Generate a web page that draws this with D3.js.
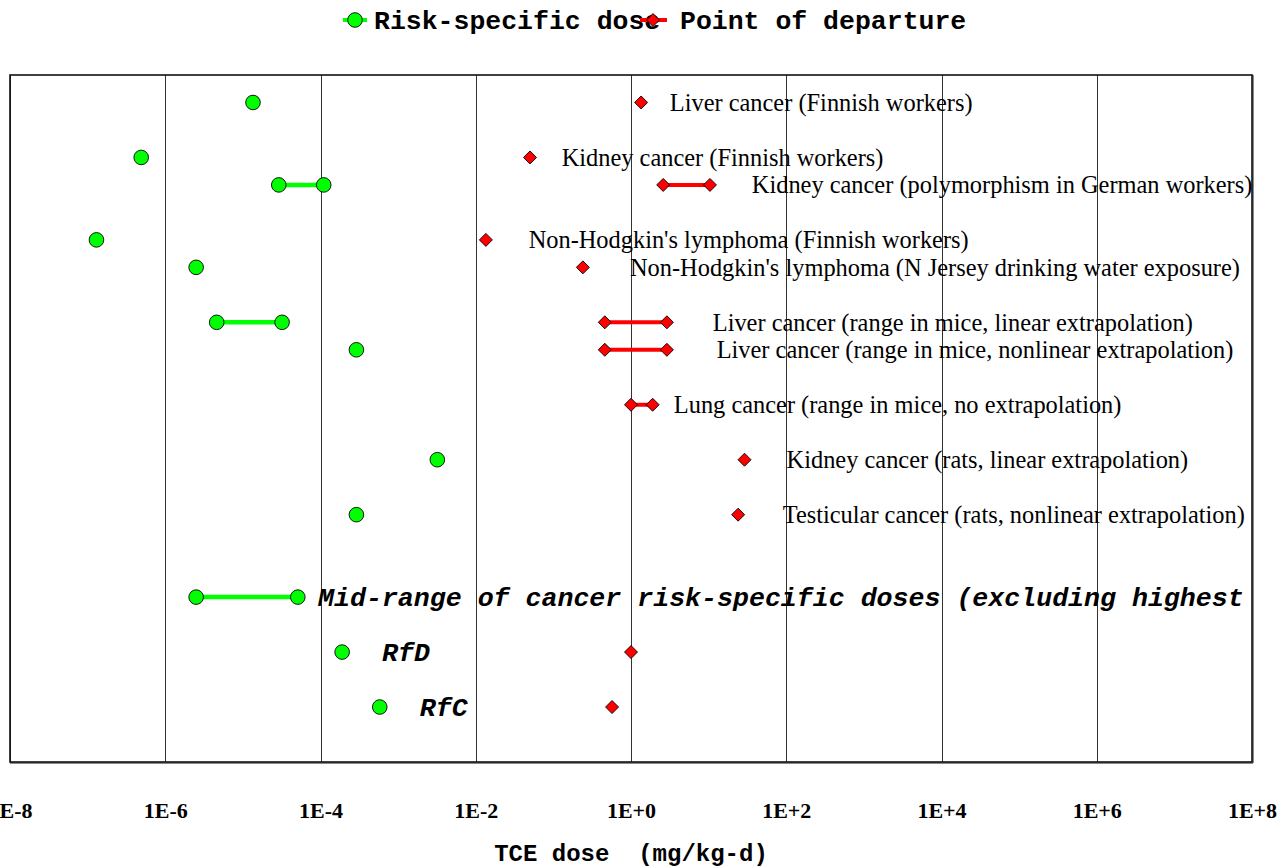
<!DOCTYPE html>
<html>
<head>
<meta charset="utf-8">
<script src="https://cdn.jsdelivr.net/npm/d3@7"></script>
<style>
  html, body { margin: 0; padding: 0; background: #fff; }
  svg { display: block; }
  text { white-space: pre; }
</style>
</head>
<body>
<svg id="chart" width="1284" height="867"></svg>
<script>
// ---- data ----
const labels = [
  "Liver cancer (Finnish workers)",
  "Kidney cancer (Finnish workers)",
  "Kidney cancer (polymorphism in German workers)",
  "Non-Hodgkin's lymphoma (Finnish workers)",
  "Non-Hodgkin's lymphoma (N Jersey drinking water exposure)",
  "Liver cancer (range in mice, linear extrapolation)",
  "Liver cancer (range in mice, nonlinear extrapolation)",
  "Lung cancer (range in mice, no extrapolation)",
  "Kidney cancer (rats, linear extrapolation)",
  "Testicular cancer (rats, nonlinear extrapolation)",
  "Mid-range of cancer risk-specific doses (excluding highest",
  "RfD",
  "RfC"
];
const rowIndex = [0, 2, 3, 5, 6, 8, 9, 11, 13, 15, 18, 20, 22];
// risk-specific dose (low / high; high null = single point; low null = none)
const rsdLow  = [1.35e-5, 4.9e-7, 2.9e-5, 1.3e-7, 2.5e-6, 4.6e-6, 2.9e-4, null, 3.2e-3, 2.9e-4, 2.5e-6, 1.9e-4, 5.8e-4];
const rsdHigh = [null,    null,   1.1e-4, null,   null,   3.2e-5, null,   null, null,   null,   5.1e-5, null,   null];
// point of departure (low / high)
const podLow  = [1.35, 0.05, 2.6,  0.0135, 0.24, 0.46, 0.46, 1.0, 29,   24,   null, 1.0,  0.57];
const podHigh = [null, null, 10.4, null,   null, 2.9,  2.9,  1.9, null, null, null, null, null];
// where each label starts (dose units)
const labelAt = [3.16, 0.128, 36, 0.048, 0.97, 11.3, 12.7, 3.56, 101, 90, 9.3e-5, 6.2e-4, 1.9e-3];
const tickValues = [1e-8, 1e-6, 1e-4, 1e-2, 1e0, 1e2, 1e4, 1e6, 1e8];
const tickLabels = ["1E-8", "1E-6", "1E-4", "1E-2", "1E+0", "1E+2", "1E+4", "1E+6", "1E+8"];
const legendNames = ["Risk-specific dose", "Point of departure"];
const xTitle = "TCE dose  (mg/kg-d)";

// ---- layout ----
const L = 10, R = 1252, T = 75, B = 762;
const GREEN = "#00ff00", RED = "#ff0000";
const MONO = "'Liberation Mono', 'Courier New', monospace";
const SERIF = "'Liberation Serif', 'Times New Roman', serif";

const svg = d3.select("#chart");
const x = d3.scaleLog().domain([1e-8, 1e8]).range([L, R]);
const y = d3.scaleLinear().domain([-1, 24]).range([T, B]);

// gridlines
const grid = svg.append("g").attr("transform", `translate(0,${B})`)
  .call(d3.axisBottom(x).tickValues(tickValues).tickSize(-(B - T)).tickFormat(""));
grid.select(".domain").remove();
grid.selectAll(".tick line").attr("stroke", "#333").attr("stroke-width", 1)
  .attr("shape-rendering", "crispEdges");

// frame
svg.append("line").attr("x1", R + 1).attr("x2", R + 1).attr("y1", T).attr("y2", B + 1)
  .attr("stroke", "#8a8a8a").attr("stroke-width", 2);
svg.append("line").attr("x1", L).attr("x2", R + 1).attr("y1", B + 1).attr("y2", B + 1)
  .attr("stroke", "#8a8a8a").attr("stroke-width", 2);
svg.append("rect").attr("x", L).attr("y", T).attr("width", R - L).attr("height", B - T)
  .attr("fill", "none").attr("stroke", "#111").attr("stroke-width", 1.6);

// axis tick labels
const ax = svg.append("g").attr("transform", `translate(0,810)`)
  .call(d3.axisBottom(x).tickValues(tickValues).tickSize(0)
    .tickFormat((d, i) => tickLabels[i]));
ax.select(".domain").remove();
ax.selectAll("text").attr("font-family", SERIF).attr("font-weight", "bold")
  .attr("font-size", 22).attr("fill", "#000").attr("dy", "0.35em").attr("y", 0);

// axis title
svg.append("text").attr("x", x(1)).attr("y", 853).attr("dy", "0.35em")
  .attr("text-anchor", "middle").attr("font-family", MONO).attr("font-weight", "bold")
  .attr("font-size", 24).attr("xml:space", "preserve").text(xTitle);

const rows = labels.map((lab, i) => ({
  lab, y: y(rowIndex[i]), rl: rsdLow[i], rh: rsdHigh[i], pl: podLow[i], ph: podHigh[i], la: labelAt[i], i
}));

const marks = svg.append("g");
function diamond(g, cx, cy) {
  const s = 6.5;
  g.append("path").attr("d", `M${cx},${cy - s}L${cx + s},${cy}L${cx},${cy + s}L${cx - s},${cy}Z`)
    .attr("fill", RED).attr("stroke", "#000").attr("stroke-width", 0.9);
}
function circle(g, cx, cy) {
  g.append("circle").attr("cx", cx).attr("cy", cy).attr("r", 7.3)
    .attr("fill", GREEN).attr("stroke", "#000").attr("stroke-width", 0.9);
}

// labels (under the marks)
const lg = svg.append("g");
rows.forEach(r => {
  const special = r.i >= 10;
  lg.append("text").attr("x", x(r.la)).attr("y", r.y).attr("dy", "0.35em")
    .attr("font-family", special ? MONO : SERIF)
    .attr("font-weight", special ? "bold" : "normal")
    .attr("font-style", special ? "italic" : "normal")
    .attr("font-size", special ? 26.6 : 24.4)
    .attr("fill", "#000").text(r.lab);
});

rows.forEach(r => {
  if (r.rl != null) {
    if (r.rh != null) marks.append("line").attr("x1", x(r.rl)).attr("x2", x(r.rh))
      .attr("y1", r.y).attr("y2", r.y).attr("stroke", GREEN).attr("stroke-width", 4.5);
    circle(marks, x(r.rl), r.y);
    if (r.rh != null) circle(marks, x(r.rh), r.y);
  }
  if (r.pl != null) {
    if (r.ph != null) marks.append("line").attr("x1", x(r.pl)).attr("x2", x(r.ph))
      .attr("y1", r.y).attr("y2", r.y).attr("stroke", RED).attr("stroke-width", 4);
    diamond(marks, x(r.pl), r.y);
    if (r.ph != null) diamond(marks, x(r.ph), r.y);
  }
});

// legend
const leg = svg.append("g");
const ly = 20;
leg.append("line").attr("x1", 343).attr("x2", 367).attr("y1", ly).attr("y2", ly)
  .attr("stroke", GREEN).attr("stroke-width", 4);
circle(leg, 355, ly);
leg.append("text").attr("x", 374).attr("y", ly).attr("dy", "0.35em")
  .attr("font-family", MONO).attr("font-weight", "bold").attr("font-size", 26.5)
  .text(legendNames[0]);
leg.append("line").attr("x1", 640).attr("x2", 667).attr("y1", ly).attr("y2", ly)
  .attr("stroke", RED).attr("stroke-width", 4);
diamond(leg, 653, ly);
leg.append("text").attr("x", 680).attr("y", ly).attr("dy", "0.35em")
  .attr("font-family", MONO).attr("font-weight", "bold").attr("font-size", 26.5)
  .text(legendNames[1]);
</script>
</body>
</html>
